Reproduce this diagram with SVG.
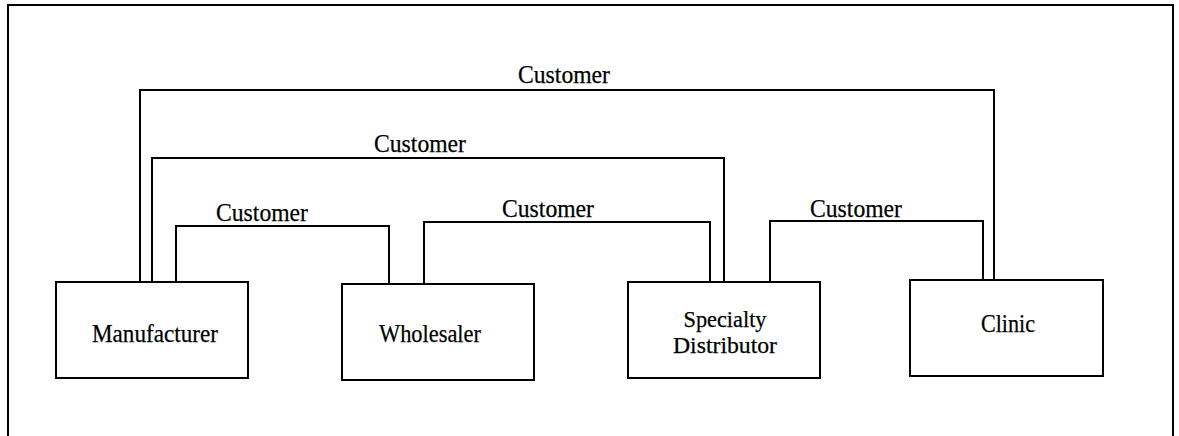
<svg xmlns="http://www.w3.org/2000/svg" width="1179" height="436" viewBox="0 0 1179 436">
  <style>
    .frame { fill: none; stroke: #000; stroke-width: 2; }
    .box { fill: #fff; stroke: #000; stroke-width: 2; }
    .link { fill: none; stroke: #000; stroke-width: 2; }
    text { font-family: "Liberation Serif", "Times New Roman", serif; font-size: 25.5px; fill: #000; text-anchor: middle; stroke: #000; stroke-width: 0.25; }
    .two-line { font-size: 23.5px; }
  </style>
  <rect width="1179" height="436" fill="#fff"/>
  <!-- open page frame -->
  <path class="frame" d="M8,436 V5 H1173 V436"/>

  <g id="connectors">
    <path class="link" d="M140,283 V90 H994 V281"/>
    <path class="link" d="M152,283 V158 H724 V283"/>
    <path class="link" d="M176,283 V226 H389 V285"/>
    <path class="link" d="M424,285 V222 H710 V283"/>
    <path class="link" d="M770,283 V221 H983 V281"/>
    <text x="564" y="83" textLength="92" lengthAdjust="spacingAndGlyphs">Customer</text>
    <text x="420" y="152" textLength="92" lengthAdjust="spacingAndGlyphs">Customer</text>
    <text x="262" y="221" textLength="92" lengthAdjust="spacingAndGlyphs">Customer</text>
    <text x="548" y="217" textLength="92" lengthAdjust="spacingAndGlyphs">Customer</text>
    <text x="856" y="217" textLength="92" lengthAdjust="spacingAndGlyphs">Customer</text>
  </g>

  <g id="manufacturer">
    <rect class="box" x="56" y="282" width="192" height="96"/>
    <text x="155" y="342" textLength="126" lengthAdjust="spacingAndGlyphs">Manufacturer</text>
  </g>
  <g id="wholesaler">
    <rect class="box" x="342" y="284" width="192" height="96"/>
    <text x="430" y="342" textLength="102" lengthAdjust="spacingAndGlyphs">Wholesaler</text>
  </g>
  <g id="specialty-distributor">
    <rect class="box" x="628" y="282" width="192" height="96"/>
    <text class="two-line" x="725" y="326.5" textLength="83" lengthAdjust="spacingAndGlyphs">Specialty</text>
    <text class="two-line" x="725" y="353" textLength="104" lengthAdjust="spacingAndGlyphs">Distributor</text>
  </g>
  <g id="clinic">
    <rect class="box" x="910" y="280" width="193" height="96"/>
    <text x="1008" y="332" textLength="54" lengthAdjust="spacingAndGlyphs">Clinic</text>
  </g>
</svg>
